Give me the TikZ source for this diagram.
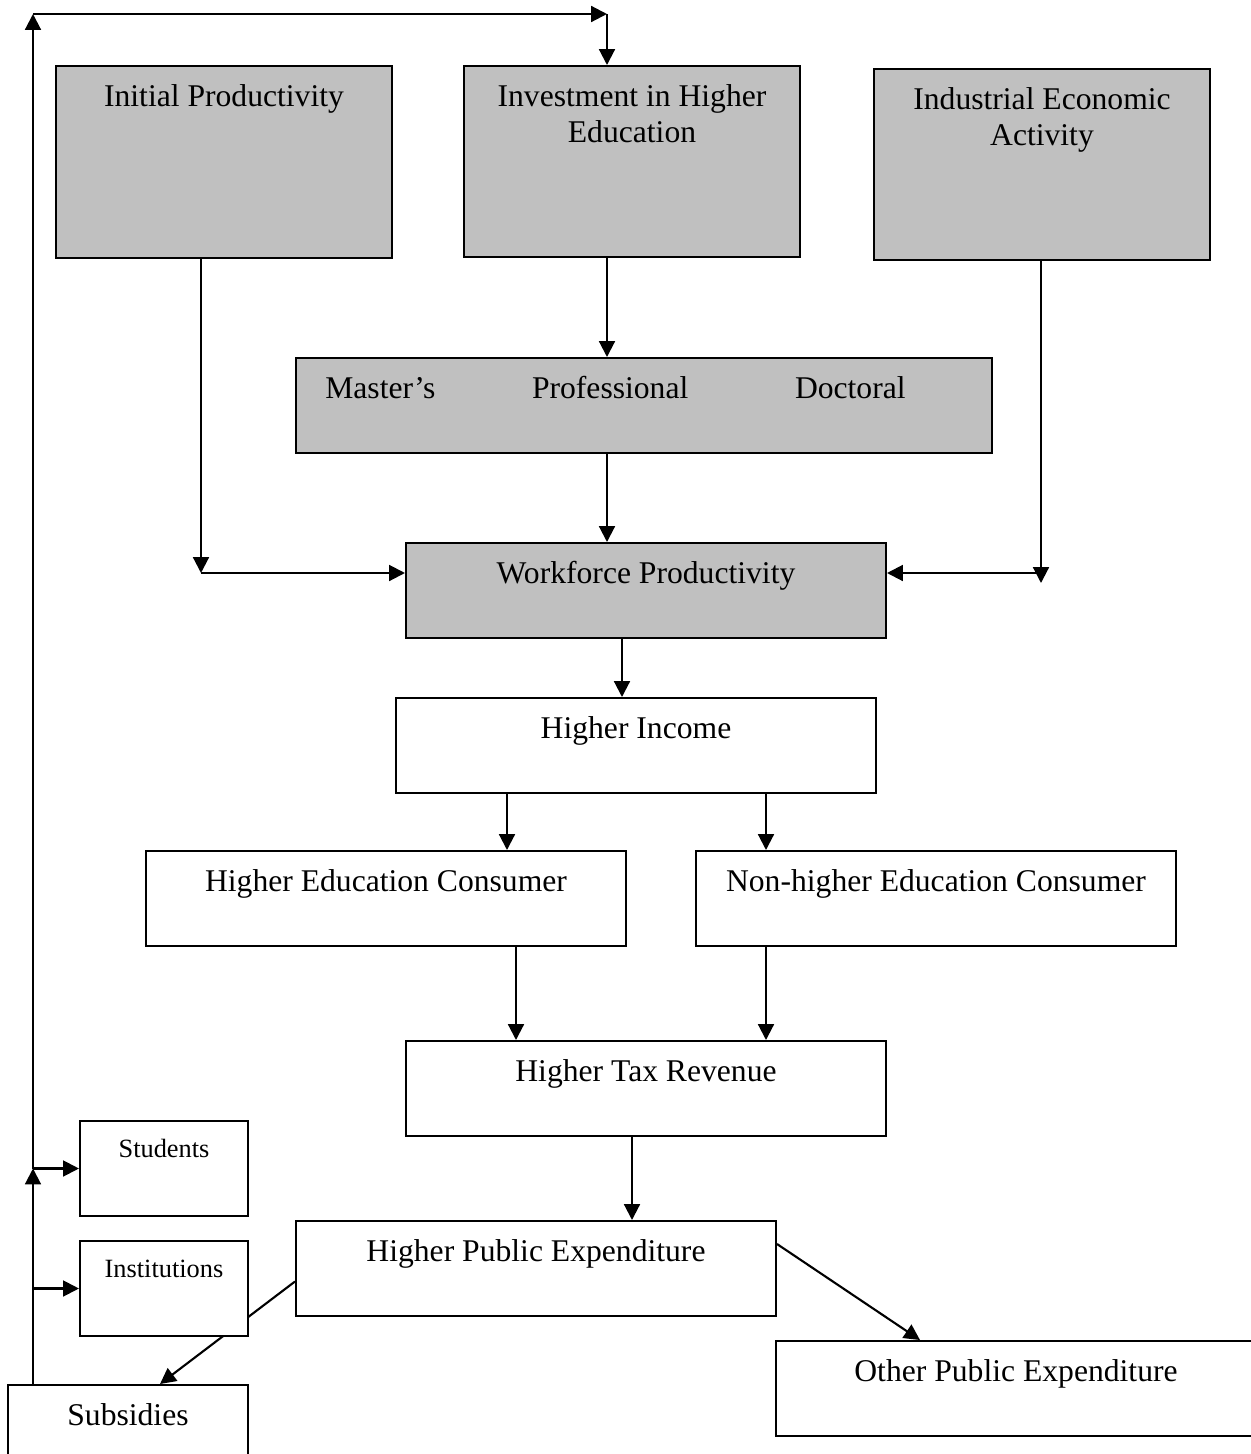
\documentclass[tikz,border=0pt]{standalone}
\usepackage{fontspec}
\setmainfont{Liberation Serif}
\usepackage{tikz}
\usetikzlibrary{arrows.meta,calc,backgrounds}
\definecolor{boxgray}{HTML}{C0C0C0}

\begin{document}
\begin{tikzpicture}[x=0.02cm, y=-0.02cm,
  font=\fontsize{18}{20.7}\selectfont,
  >={Triangle[length=9pt,width=9pt]},
  box/.style={draw, line width=1.2pt, inner sep=0pt, anchor=north, align=center,
    fill=white, minimum width=9.6cm, text height=23pt, text depth=#1},
  box/.default=31pt,
  gbox/.style={box=#1, fill=boxgray, minimum width=6.72cm},
  gbox/.default=86pt,
  twolines/.style={text height=43.7pt, text depth=65.2pt},
  smallbox/.style={box=33pt, minimum width=3.36cm, text height=21pt,
    font=\fontsize{15}{18}\selectfont},
  arr/.style={->, line width=1.2pt}]
\useasboundingbox (0,0) rectangle (1251,1454);

% top row
\node[gbox] (init) at (224,65) {Initial Productivity};
\node[gbox, twolines] (inv) at (632,65) {Investment in Higher\\Education};
\node[gbox, twolines] (indus) at (1042,68) {Industrial Economic\\Activity};

\node[gbox=31pt, minimum width=13.92cm, inner xsep=15.9pt, text width=362.8pt,
  align=left] (deg) at (644,357)
  {Master’s\hspace*{55pt}Professional\hspace*{60.7pt}Doctoral};
\node[gbox=31pt, minimum width=9.6cm] (work) at (646,542) {Workforce Productivity};

% white boxes
\node[box] (inc) at (636,697) {Higher Income};
\node[box] (hec) at (386,850) {Higher Education Consumer};
\node[box] (nhec) at (936,850) {Non-higher Education Consumer};
\node[box] (tax) at (646,1040) {Higher Tax Revenue};
\node[box] (pub) at (536,1220) {Higher Public Expenditure};
\node[box] (other) at (1016,1340) {Other Public Expenditure};

\node[smallbox] (stud) at (164,1120) {Students};
\node[smallbox] (inst) at (164,1240) {Institutions};
\node[box, minimum width=4.8cm] (subs) at (128,1384) {Subsidies};

\coordinate (sp) at (33,14);
\coordinate (tp) at (607,14);
\coordinate (ip) at (201,573);
\coordinate (dp) at (1041,583);

% loop back from subsidies
\draw[arr] (subs.north -| sp) -- (stud.west -| sp);
\draw[arr] (stud.west -| sp) -- (sp);
\draw[arr] (sp) -- (tp);
\draw[arr] (tp) -- (tp |- inv.north);
\draw[arr] (stud.west -| sp) -- (stud.west);
\draw[arr] (inst.west -| sp) -- (inst.west);

\draw[arr] (init.south -| ip) -- (ip);
\draw[arr] (ip) -- (ip -| work.west);
\draw[arr] (indus.south -| dp) -- (dp);
\draw[arr] (ip -| dp) -- (ip -| work.east);
\draw[arr] (inv.south -| tp) -- (tp |- deg.north);
\draw[arr] (deg.south -| tp) -- (tp |- work.north);

\draw[arr] ($(work.south)+(-24,0)$) -- ($(inc.north)+(-14,0)$);
\draw[arr] ($(inc.south)+(-129,0)$) -- ($(hec.north)+(121,0)$);
\draw[arr] ($(inc.south)+(130,0)$) -- ($(nhec.north)+(-170,0)$);
\draw[arr] ($(hec.south)+(130,0)$) -- ($(tax.north)+(-130,0)$);
\draw[arr] ($(nhec.south)+(-170,0)$) -- ($(tax.north)+(120,0)$);
\draw[arr] ($(tax.south)+(-14,0)$) -- ($(pub.north)+(96,0)$);
\draw[arr] ($(pub.north east)+(0,24)$) -- ($(other.north)+(-96,0)$);

\begin{scope}[on background layer]
\draw[arr] ($(pub.west)+(0,13)$) -- ($(subs.north)+(32,0)$);
\end{scope}

\end{tikzpicture}
\end{document}
